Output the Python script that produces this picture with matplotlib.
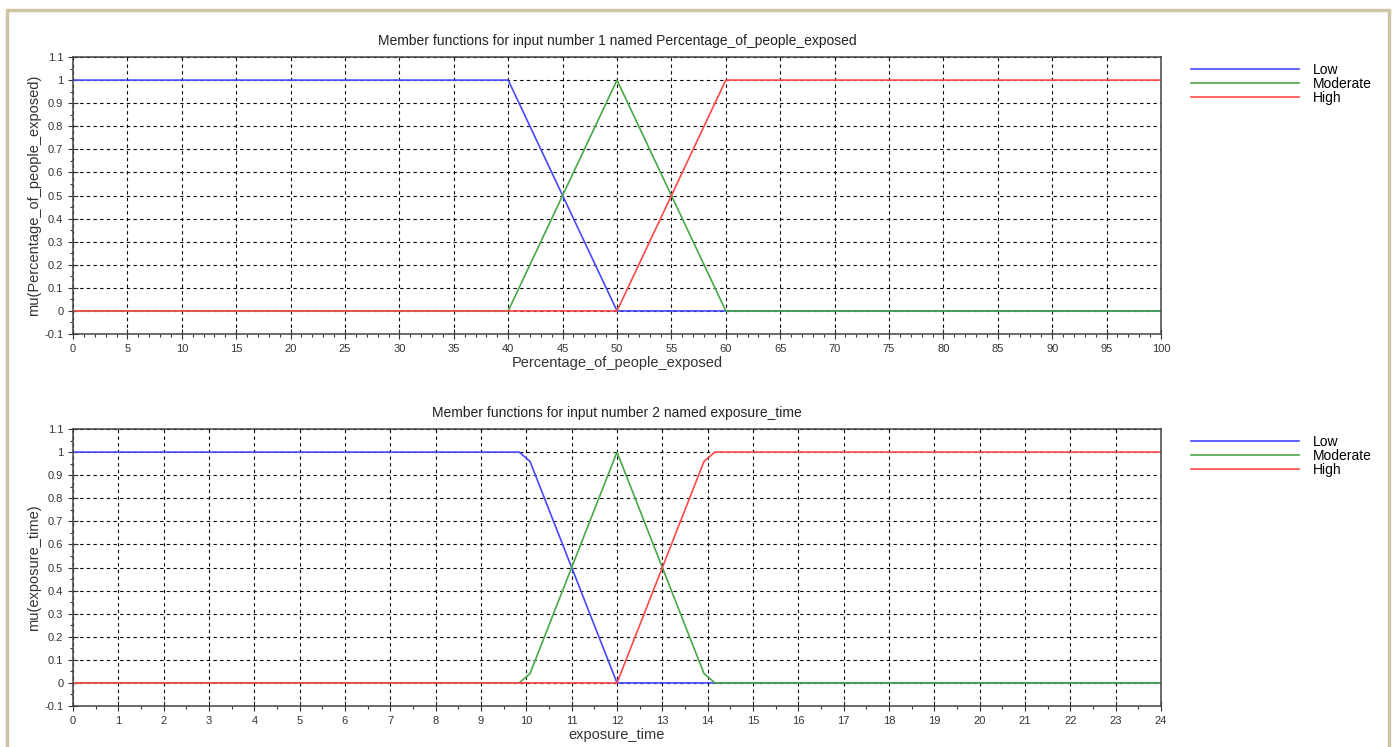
import matplotlib.pyplot as plt
from matplotlib.patches import Rectangle
from matplotlib.ticker import MultipleLocator

plt.rcParams['font.family'] = ['Liberation Sans', 'DejaVu Sans']

# input 1: Percentage_of_people_exposed
x1_low = [0, 40, 50, 100]
y1_low = [1, 1, 0, 0]
x1_mod = [0, 40, 50, 60, 100]
y1_mod = [0, 0, 1, 0, 0]
x1_high = [0, 50, 60, 100]
y1_high = [0, 0, 1, 1]

# input 2: exposure_time (sampled curve, small shoulders near 10 and 14)
x2_low = [0, 9.84, 10.08, 12, 24]
y2_low = [1, 1, 0.96, 0, 0]
x2_mod = [0, 9.84, 10.08, 12, 13.92, 14.16, 24]
y2_mod = [0, 0, 0.04, 1, 0.04, 0, 0]
x2_high = [0, 12, 13.92, 14.16, 24]
y2_high = [0, 0, 0.96, 1, 1]

labels = ['Low', 'Moderate', 'High']
colors = ['#4848ff', '#48a848', '#ff4848']

W, H = 1397, 747
fig = plt.figure(figsize=(W / 100, H / 100), dpi=100)
fig.patches.append(Rectangle((7 / W, -0.05), (1389 - 7) / W, 1.05 - 10 / H,
                             transform=fig.transFigure, fill=False,
                             edgecolor='#cdc5a5', lw=2.5))

panels = [
    (57, 334, [(x1_low, y1_low), (x1_mod, y1_mod), (x1_high, y1_high)], 100, 5, 1,
     'Member functions for input number 1 named Percentage_of_people_exposed',
     'Percentage_of_people_exposed', 'mu(Percentage_of_people_exposed)'),
    (429, 706, [(x2_low, y2_low), (x2_mod, y2_mod), (x2_high, y2_high)], 24, 1, 0.5,
     'Member functions for input number 2 named exposure_time',
     'exposure_time', 'mu(exposure_time)'),
]

for top, bot, series, xmax, xmaj, xmin_, title, xlabel, ylabel in panels:
    ax = fig.add_axes([73 / W, 1 - bot / H, (1161 - 73) / W, (bot - top) / H])
    for (xs, ys), lab, c in zip(series, labels, colors):
        ax.plot(xs, ys, color=c, lw=1.2, label=lab)
    ax.set_xlim(0, xmax)
    ax.set_ylim(-0.1, 1.1)
    ax.xaxis.set_major_locator(MultipleLocator(xmaj))
    ax.xaxis.set_minor_locator(MultipleLocator(xmin_))
    ax.yaxis.set_minor_locator(MultipleLocator(0.05))
    ax.set_yticks([round(-0.1 + 0.1 * i, 1) for i in range(13)])
    ax.set_yticklabels(['-0.1', '0'] + ['%g' % (0.1 * i) for i in range(1, 10)] + ['1', '1.1'])
    ax.grid(True, which='major', color='black', lw=0.8, linestyle=(0, (3, 3)))
    ax.tick_params(which='major', direction='inout', length=7, width=0.8,
                   labelsize=8, labelcolor='#333333', color='#333333')
    ax.tick_params(which='minor', direction='out', length=2.5, width=0.8, color='#333333')
    for s in ax.spines.values():
        s.set_color('#444444')
        s.set_linewidth(1.1)
    ax.set_title(title, fontsize=10, color='#222222', pad=9)
    ax.set_xlabel(xlabel, fontsize=10.5, color='#333333', labelpad=2)
    ax.set_ylabel(ylabel, fontsize=10.5, color='#333333', labelpad=2)
    ax.legend(loc='upper left', bbox_to_anchor=(1.02, 1.01), frameon=False,
              fontsize=10, handlelength=7.8, handletextpad=1.0,
              labelspacing=0.02, borderaxespad=0.2)

fig.savefig('out.png', dpi=100)
